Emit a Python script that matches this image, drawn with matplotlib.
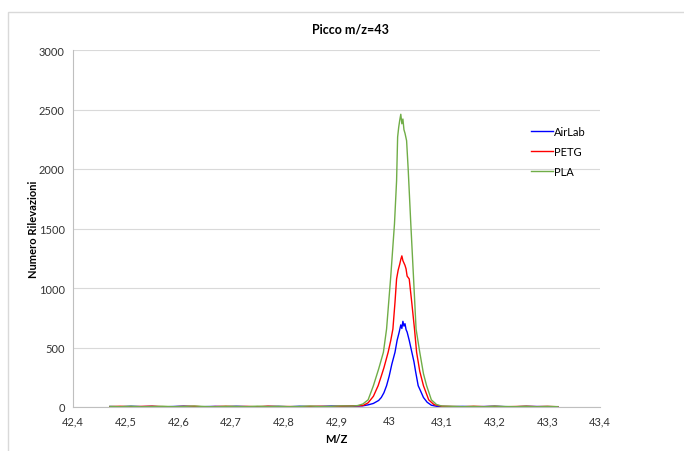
import matplotlib
matplotlib.use('Agg')
import matplotlib.pyplot as plt
from matplotlib.patches import Rectangle
from matplotlib.ticker import FuncFormatter

plt.rcParams['font.family'] = ['Lato', 'DejaVu Sans']

# asse m/z comune per la linea di base (prima e dopo il picco)
mz_base = [42.47, 42.49, 42.51, 42.53, 42.55, 42.57, 42.59, 42.61, 42.63, 42.65, 42.67, 42.69,
           42.71, 42.73, 42.75, 42.77, 42.79, 42.81, 42.83, 42.85, 42.87, 42.89, 42.91, 42.93]
mz_tail = [43.12, 43.14, 43.16, 43.18, 43.20, 43.22, 43.24, 43.26, 43.28, 43.30, 43.32]

# AirLab
mz_peak_airlab = [42.950, 42.960, 42.970, 42.980, 42.985, 42.990, 42.995, 43.000, 43.005, 43.011,
                  43.015, 43.019, 43.022, 43.024, 43.026, 43.028, 43.030, 43.032, 43.034, 43.038,
                  43.043, 43.047, 43.050, 43.055, 43.058, 43.062, 43.065, 43.072, 43.080, 43.090, 43.100]
cnt_base_airlab = [4, 2, 6, 3, 5, 1, 4, 7, 2, 3, 5, 2, 6, 3, 1, 4, 5, 2, 6, 3, 4, 8, 5, 6]
cnt_peak_airlab = [10, 18, 30, 55, 80, 120, 179, 260, 360, 460, 560, 630, 690, 660, 720, 680,
                   700, 650, 630, 560, 460, 380, 300, 179, 150, 110, 80, 40, 15, 6, 4]
cnt_tail_airlab = [3, 5, 2, 4, 6, 3, 2, 5, 4, 3, 2]

# PETG
mz_peak_petg = [42.950, 42.960, 42.970, 42.979, 42.985, 42.990, 42.998, 43.003, 43.007, 43.011,
                43.014, 43.017, 43.020, 43.022, 43.024, 43.026, 43.028, 43.030, 43.032, 43.034,
                43.038, 43.043, 43.048, 43.052, 43.058, 43.065, 43.075, 43.085, 43.100]
cnt_base_petg = [3, 6, 2, 5, 7, 3, 2, 5, 6, 1, 4, 6, 3, 5, 2, 7, 3, 4, 2, 5, 6, 3, 7, 9]
cnt_peak_petg = [12, 35, 90, 179, 260, 330, 460, 560, 655, 880, 1076, 1150, 1200, 1240, 1270,
                 1230, 1210, 1190, 1160, 1100, 1076, 870, 655, 460, 300, 179, 60, 20, 6]
cnt_tail_petg = [4, 2, 6, 3, 5, 2, 4, 6, 3, 5, 2]

# PLA
mz_peak_pla = [42.940, 42.950, 42.960, 42.970, 42.980, 42.989, 42.995, 43.003, 43.010, 43.014,
               43.016, 43.018, 43.020, 43.022, 43.024, 43.026, 43.028, 43.030, 43.033, 43.036,
               43.041, 43.046, 43.051, 43.058, 43.065, 43.071, 43.080, 43.090, 43.100]
cnt_base_pla = [5, 3, 7, 2, 4, 6, 3, 5, 8, 4, 2, 6, 5, 3, 7, 4, 6, 3, 5, 8, 4, 6, 9, 8]
cnt_peak_pla = [12, 25, 60, 179, 320, 460, 655, 1100, 1538, 1900, 2269, 2350, 2410, 2460, 2380,
                2420, 2330, 2300, 2238, 2000, 1538, 1100, 655, 460, 280, 179, 60, 20, 8]
cnt_tail_pla = [6, 3, 5, 2, 7, 4, 3, 6, 2, 5, 3]

serie = [
    ('AirLab', mz_base + mz_peak_airlab + mz_tail, cnt_base_airlab + cnt_peak_airlab + cnt_tail_airlab, '#0000ff'),
    ('PETG', mz_base + mz_peak_petg + mz_tail, cnt_base_petg + cnt_peak_petg + cnt_tail_petg, '#ff0000'),
    ('PLA', mz_base + mz_peak_pla + mz_tail, cnt_base_pla + cnt_peak_pla + cnt_tail_pla, '#70ad47'),
]

fig = plt.figure(figsize=(6.84, 4.52), dpi=100)

# cornice esterna del grafico
fig.patches.append(Rectangle((8/684, -0.1), 1.2, 1.1 - 13/452, transform=fig.transFigure,
                             fill=False, edgecolor='#d9d9d9', linewidth=1))

ax = fig.add_axes([73/684, 44/452, 527/684, 357/452])

for nome, x, y, col in serie:
    ax.plot(x, y, color=col, linewidth=1.0, label=nome)

ax.set_xlim(42.4, 43.4)
ax.set_ylim(0, 3000)
ax.set_xticks([42.4, 42.5, 42.6, 42.7, 42.8, 42.9, 43.0, 43.1, 43.2, 43.3, 43.4])
ax.set_yticks([0, 500, 1000, 1500, 2000, 2500, 3000])
ax.xaxis.set_major_formatter(FuncFormatter(lambda v, p: ('%g' % round(v, 1)).replace('.', ',')))
ax.tick_params(length=0, labelsize=8, colors='#333333', pad=6)
ax.grid(axis='y', color='#d9d9d9', linewidth=0.8)
ax.set_axisbelow(True)
for s in ['top', 'right']:
    ax.spines[s].set_visible(False)
for s in ['left', 'bottom']:
    ax.spines[s].set_color('#bfbfbf')
    ax.spines[s].set_linewidth(0.8)

ax.set_xlabel('M/Z', fontsize=8, fontweight='bold', labelpad=5)
ax.set_ylabel('Numero Rilevazioni', fontsize=8, fontweight='bold', labelpad=0)
fig.text(350/684, 1 - 30/452, 'Picco m/z=43', fontsize=9, fontweight='bold', ha='center', va='center')

ax.legend(loc='upper left', bbox_to_anchor=(0.85, 0.815), frameon=False, fontsize=8,
          handlelength=2.0, handletextpad=0.1, labelspacing=0.8)

plt.savefig('out.png', dpi=100)
